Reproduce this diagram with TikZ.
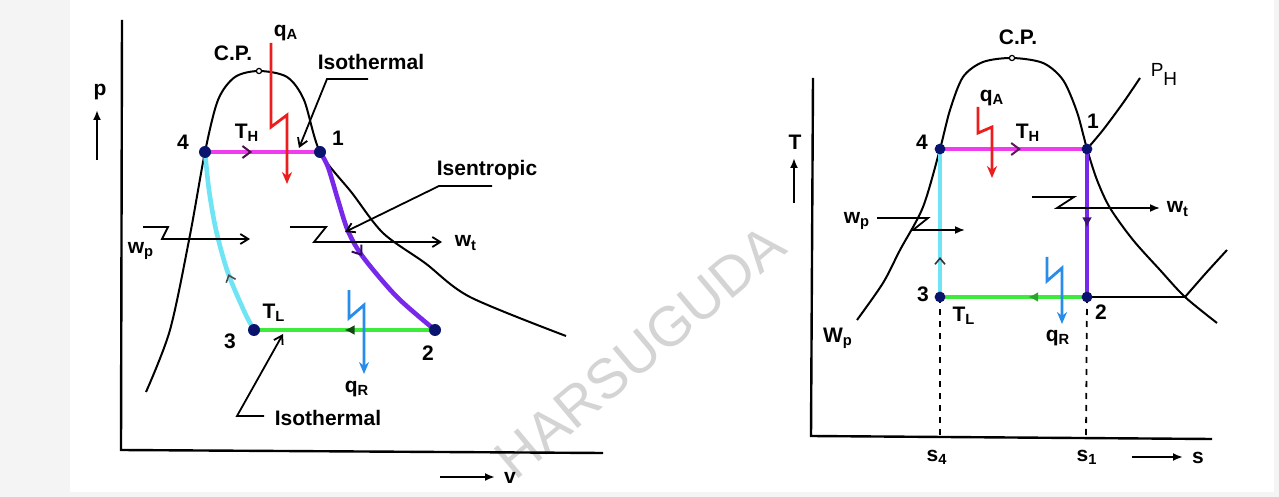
\documentclass[tikz,border=0pt]{standalone}
\usepackage{fontspec}
\setmainfont{Liberation Sans}
\usetikzlibrary{arrows.meta,decorations.markings}
\definecolor{bggray}{RGB}{244,244,244}
\definecolor{cmag}{RGB}{238,60,238}
\definecolor{ccyan}{RGB}{110,228,245}
\definecolor{cpurp}{RGB}{120,40,235}
\definecolor{cgreen}{RGB}{60,235,60}
\definecolor{cred}{RGB}{235,30,30}
\definecolor{cblue}{RGB}{40,140,235}
\definecolor{cdot}{RGB}{10,20,110}
\definecolor{wmark}{RGB}{212,212,212}
\tikzset{
  lbl/.style={font=\fontsize{10.5}{12}\selectfont\bfseries, inner sep=0pt},
  blk/.style={line width=1pt, black},
  axisline/.style={line width=1.2pt, black},
  col/.style={line width=2.3pt},
  leader/.style={line width=0.9pt, -{Straight Barb[length=4pt,width=5pt]}},
  warr/.style={line width=0.9pt, -{Straight Barb[length=4pt,width=5pt]}},
  warrf/.style={line width=0.9pt, -{Latex[length=5pt,width=4pt]}},
  heat/.style={line width=1.4pt, -{Stealth[length=6pt,width=5pt]}},
}
\begin{document}
\begin{tikzpicture}[x=0.5pt,y=-0.5pt]
\fill[bggray] (0,0) rectangle (1279,497);
\fill[white] (70,0) rectangle (1274,492);
\useasboundingbox (0,0) rectangle (1279,497);
\node[rotate=40, text=wmark, font=\fontsize{28}{28}\selectfont] (wm) at (640,352) {HARSUGUDA};

% ================= LEFT: p-v diagram =================
\coordinate (La0) at (122,20);
\coordinate (La1) at (121,450);
\coordinate (La2) at (603,453);
\draw[axisline] (La0) -- (La1) -- (La2);
\node[lbl] (pL) at (100,92) {p};
\coordinate (pA0) at (97,160); \coordinate (pA1) at (97,110);
\draw[line width=1pt, -{Latex[length=5pt,width=4pt]}] (pA0) -- (pA1);
\coordinate (vA0) at (440,477); \coordinate (vA1) at (495,477);
\draw[line width=1pt, -{Latex[length=5pt,width=4pt]}] (vA0) -- (vA1);
\node[lbl] (vL) at (510,478) {v};

% dome
\draw[blk] plot[smooth] coordinates {(146,392) (170,330) (190,235) (205,152) (218,100) (235,77) (259,71) (287,77) (304,100) (320,152) (352,193) (383,233) (425,263) (470,297) (566,336)};
\coordinate (cpL) at (259,71);
\draw[line width=0.6pt, fill=white] (cpL) circle (1.3pt);
\node[lbl] (cpLt) at (233,53) {C.P.};

% states
\coordinate (L4) at (205,152);
\coordinate (L1) at (320,152);
\coordinate (L3) at (254,330);
\coordinate (L2) at (435,330);

% cycle lines
\draw[col, cmag, postaction={decorate}, decoration={markings, mark=at position 0.41 with {\arrow[black!70!cmag,line width=1pt]{Straight Barb[length=4pt,width=6pt]}}}] (L4) -- (L1);
\draw[col, cpurp, postaction={decorate}, decoration={markings, mark=at position 0.52 with {\arrow[black!60!cpurp,line width=1pt]{Straight Barb[length=4pt,width=6pt]}}}] plot[smooth] coordinates {(320,152) (328,167) (338,200) (348,231) (363,257) (397,297) (435,330)};
\draw[col, cgreen, postaction={decorate}, decoration={markings, mark=at position 0.5 with {\arrow[black!70!cgreen]{Latex[length=5pt,width=5pt]}}}] (L2) -- (L3);
\draw[col, ccyan, postaction={decorate}, decoration={markings, mark=at position 0.33 with {\arrow[black!70,line width=0.8pt]{Straight Barb[length=3pt,width=5pt]}}}] plot[smooth] coordinates {(254,330) (245,313) (228,273) (216,230) (209,190) (205,152)};
\foreach \p in {L4,L1,L3,L2} \fill[cdot] (\p) circle (3pt);

\node[lbl] (n4L) at (183,142) {4};
\node[lbl] (n1L) at (338,138) {1};
\node[lbl] (n3L) at (230,341) {3};
\node[lbl] (n2L) at (428,353) {2};
\node[lbl] (THL) at (247,133) {T\textsubscript{H}};
\node[lbl] (TLL) at (274,313) {T\textsubscript{L}};

% heat added
\node[lbl] (qAL) at (286,33) {q\textsubscript{A}};
\coordinate (rL0) at (271,43); \coordinate (rL1) at (271,127);
\coordinate (rL2) at (287,115); \coordinate (rL3) at (287,184);
\draw[heat, cred] (rL0) -- (rL1) -- (rL2) -- (rL3);

% heat rejected
\coordinate (bL0) at (349,290); \coordinate (bL1) at (349,318);
\coordinate (bL2) at (364,305); \coordinate (bL3) at (364,374);
\draw[heat, cblue] (bL0) -- (bL1) -- (bL2) -- (bL3);
\node[lbl] (qRL) at (357,389) {q\textsubscript{R}};

% work
\coordinate (wpL0) at (143,227); \coordinate (wpL1) at (168,227);
\coordinate (wpL2) at (162,239); \coordinate (wpL3) at (250,239);
\draw[warr] (wpL0) -- (wpL1) -- (wpL2) -- (wpL3);
\node[lbl] (wpLt) at (141,251) {w\textsubscript{p}};
\coordinate (wtL0) at (290,227); \coordinate (wtL1) at (326,227);
\coordinate (wtL2) at (314,242); \coordinate (wtL3) at (442,242);
\draw[warr] (wtL0) -- (wtL1) -- (wtL2) -- (wtL3);
\node[lbl] (wtLt) at (466,243) {w\textsubscript{t}};

% leaders
\node[lbl] (isoA) at (371,62) {Isothermal};
\coordinate (iA0) at (368,79); \coordinate (iA1) at (327,79); \coordinate (iA2) at (299,148);
\draw[leader] (iA0) -- (iA1) -- (iA2);
\node[lbl] (isen) at (487,170) {Isentropic};
\coordinate (iS0) at (492,186); \coordinate (iS1) at (439,186); \coordinate (iS2) at (345,232);
\draw[leader] (iS0) -- (iS1) -- (iS2);
\node[lbl] (isoB) at (328,418) {Isothermal};
\coordinate (iB0) at (264,416); \coordinate (iB1) at (237,416); \coordinate (iB2) at (283,334);
\draw[leader] (iB0) -- (iB1) -- (iB2);

% ================= RIGHT: T-s diagram =================
\coordinate (Ra0) at (813,78);
\coordinate (Ra1) at (811,436);
\coordinate (Ra2) at (1212,439);
\draw[axisline] (Ra0) -- (Ra1) -- (Ra2);
\node[lbl] (TR) at (795,142) {T};
\coordinate (tA0) at (794,203); \coordinate (tA1) at (794,158);
\draw[line width=1pt, -{Latex[length=5pt,width=4pt]}] (tA0) -- (tA1);
\coordinate (sA0) at (1132,457); \coordinate (sA1) at (1183,457);
\draw[line width=1pt, -{Latex[length=5pt,width=4pt]}] (sA0) -- (sA1);
\node[lbl] (sR) at (1198,458) {s};

% dome
\draw[blk] plot[smooth] coordinates {(857,320) (883,283) (900,250) (923,207) (940,149) (950,110) (963,77) (983,62) (1012,58) (1043,63) (1063,80) (1077,112) (1087,149) (1097,180) (1110,208) (1133,240) (1160,270) (1185,297) (1217,323)};
\coordinate (cpR) at (1012,58);
\draw[line width=0.6pt, fill=white] (cpR) circle (1.3pt);
\node[lbl] (cpRt) at (1018,37) {C.P.};

\coordinate (R4) at (940,149);
\coordinate (R1) at (1087,149);
\coordinate (R3) at (940,297);
\coordinate (R2) at (1087,297);

% pressure lines
\draw[blk] plot[smooth] coordinates {(1087,149) (1103,130) (1123,103) (1140,78)};
\node[font=\fontsize{9.5}{11}\selectfont, inner sep=0pt] (PH) at (1164,74) {P\raisebox{-4.5pt}{H}};
\coordinate (lpX) at (1185,297);
\draw[blk] (R2) -- (lpX);
\draw[blk] plot[smooth] coordinates {(1185,297) (1206,273) (1227,250)};
\node[lbl] (WpR) at (838,338) {W\textsubscript{p}};

% dashed
\coordinate (s4b) at (940,438); \coordinate (s1b) at (1086,438);
\draw[line width=0.9pt, dashed] (R3) -- (s4b);
\draw[line width=0.9pt, dashed] (R2) -- (s1b);
\node[lbl] (s4t) at (937,457) {s\textsubscript{4}};
\node[lbl] (s1t) at (1087,457) {s\textsubscript{1}};

% cycle
\draw[col, cmag, postaction={decorate}, decoration={markings, mark=at position 0.55 with {\arrow[black!60!cmag,line width=1pt]{Straight Barb[length=4pt,width=6pt]}}}] (R4) -- (R1);
\draw[col, cpurp, postaction={decorate}, decoration={markings, mark=at position 0.53 with {\arrow[black!50!cpurp]{Latex[length=5pt,width=5pt]}}}] (R1) -- (R2);
\draw[col, cgreen, postaction={decorate}, decoration={markings, mark=at position 0.4 with {\arrow[black!30!cgreen]{Latex[length=5pt,width=5pt]}}}] (R2) -- (R3);
\draw[col, ccyan, postaction={decorate}, decoration={markings, mark=at position 0.27 with {\arrow[black!80,line width=0.8pt]{Straight Barb[length=3pt,width=5pt]}}}] (R3) -- (R4);
\foreach \p in {R4,R1,R3,R2} \fill[cdot] (\p) circle (2.7pt);

\node[lbl] (n4R) at (922,142) {4};
\node[lbl] (n1R) at (1093,121) {1};
\node[lbl] (n3R) at (923,294) {3};
\node[lbl] (n2R) at (1101,312) {2};
\node[lbl] (THR) at (1028,133) {T\textsubscript{H}};
\node[lbl] (TLR) at (964,316) {T\textsubscript{L}};

% heat
\node[lbl] (qAR) at (992,98) {q\textsubscript{A}};
\coordinate (rR0) at (978,107); \coordinate (rR1) at (978,133);
\coordinate (rR2) at (992,127); \coordinate (rR3) at (992,178);
\draw[heat, cred] (rR0) -- (rR1) -- (rR2) -- (rR3);
\coordinate (bR0) at (1047,257); \coordinate (bR1) at (1047,281);
\coordinate (bR2) at (1062,268); \coordinate (bR3) at (1062,324);
\draw[heat, cblue] (bR0) -- (bR1) -- (bR2) -- (bR3);
\node[lbl] (qRR) at (1058,338) {q\textsubscript{R}};

% work
\node[lbl] (wpRt) at (857,221) {w\textsubscript{p}};
\coordinate (wpR0) at (877,218); \coordinate (wpR1) at (928,218);
\coordinate (wpR2) at (913,230); \coordinate (wpR3) at (965,230);
\draw[warrf] (wpR0) -- (wpR1) -- (wpR2) -- (wpR3);
\coordinate (wtR0) at (1032,197); \coordinate (wtR1) at (1074,197);
\coordinate (wtR2) at (1057,208); \coordinate (wtR3) at (1160,208);
\draw[warrf] (wtR0) -- (wtR1) -- (wtR2) -- (wtR3);
\node[lbl] (wtRt) at (1178,209) {w\textsubscript{t}};
\end{tikzpicture}
\end{document}
